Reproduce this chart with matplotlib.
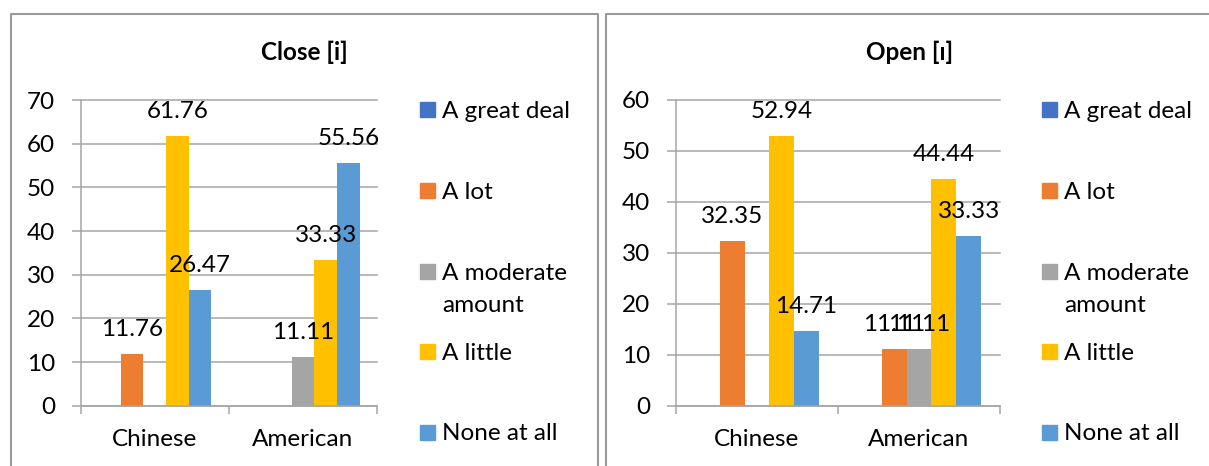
import numpy as np
import matplotlib.pyplot as plt
from matplotlib.lines import Line2D
from matplotlib.patches import Rectangle

# Lato for the text, DejaVu Sans as a fallback for the IPA letter in the title
plt.rcParams['font.family'] = ['Lato', 'DejaVu Sans']

W, H = 1209, 466  # figure size in pixels

# --- data ---
categories = ['Chinese', 'American']
series = ['A great deal', 'A lot', 'A moderate\namount', 'A little', 'None at all']
colors = ['#4472C4', '#ED7D31', '#A5A5A5', '#FFC000', '#5B9BD5']

# None = nobody in that group chose the answer (no bar, no label)
close_great = [None, None]
close_lot = [11.76, None]
close_moderate = [None, 11.11]
close_little = [61.76, 33.33]
close_none = [26.47, 55.56]

open_great = [None, None]
open_lot = [32.35, 11.11]
open_moderate = [None, 11.11]
open_little = [52.94, 44.44]
open_none = [14.71, 33.33]

grid_c = '#a6a6a6'
border_c = '#9a9a9a'
bar_w = 0.153
fs = 17.5


def px(x, y):
    """pixel position (from top-left) -> figure fraction"""
    return x / W, 1 - y / H


def draw_panel(ax, values, ymax):
    x = np.arange(len(categories))
    for i, (vals, color) in enumerate(zip(values, colors)):
        v = np.array([np.nan if a is None else a for a in vals], dtype=float)
        bars = ax.bar(x + (i - 2) * bar_w, v, width=bar_w, color=color, zorder=2)
        for b, val in zip(bars, v):
            if np.isnan(val):
                continue
            ax.annotate(f'{val:.2f}', (b.get_x() + b.get_width() / 2, val),
                        xytext=(0, 19), textcoords='offset points',
                        ha='center', va='center_baseline', fontsize=fs,
                        zorder=5, annotation_clip=False)

    ax.set_xlim(-0.5, 1.5)
    ax.set_ylim(0, ymax)
    ax.set_yticks(range(0, ymax + 1, 10))
    ax.yaxis.grid(True, color=grid_c, lw=1.1)
    for gl in ax.get_ygridlines():
        gl.set_clip_on(False)
    ax.set_axisbelow(True)
    ax.tick_params(axis='y', length=6.5, width=1.1, color=grid_c, pad=12, labelsize=fs)

    ax.set_xticks(x)
    ax.set_xticklabels(categories)
    ax.set_xticks([-0.5, 0.5, 1.5], minor=True)
    ax.tick_params(axis='x', which='major', length=0, pad=17, labelsize=fs)
    ax.tick_params(axis='x', which='minor', length=6, width=1.1, color=grid_c)

    for s in ['top', 'right']:
        ax.spines[s].set_visible(False)
    for s in ['left', 'bottom']:
        ax.spines[s].set_color(grid_c)
        ax.spines[s].set_linewidth(1.1)


def draw_legend(fig, swatch_x, text_x):
    for j, (label, color) in enumerate(zip(series, colors)):
        y = 110 + 80.5 * j
        fig.add_artist(Rectangle(px(swatch_x, y + 7.5), 15 / W, 15 / H,
                                 transform=fig.transFigure, color=color))
        # wrapped entries: one text per line, 33 px apart
        for k, line in enumerate(label.split('\n')):
            fig.text(*px(text_x, y + 33 * k), line, ha='left',
                     va='center_baseline', fontsize=fs)


fig = plt.figure(figsize=(W / 100, H / 100), dpi=100)

bottom = (H - 405.7) / H
height = 305.7 / H
ax1 = fig.add_axes([80.7 / W, bottom, (377 - 80.7) / W, height])
ax2 = fig.add_axes([676 / W, bottom, (1000 - 676) / W, height])

draw_panel(ax1, [close_great, close_lot, close_moderate, close_little, close_none], 70)
draw_panel(ax2, [open_great, open_lot, open_moderate, open_little, open_none], 60)

fig.text(*px(304.5, 50.5), 'Close [i]', ha='center', va='center_baseline',
         fontsize=17.5, fontweight='bold')
fig.text(*px(910, 50.5), 'Open [ɪ]', ha='center', va='center_baseline',
         fontsize=17.5, fontweight='bold')

draw_legend(fig, 420, 442)
draw_legend(fig, 1042, 1064)

# chart-area frames (they run off the bottom and right edge)
for xs, ys in [([11, 11, 598, 598], [480, 14, 14, 480]),
               ([606, 606, 1230], [480, 14, 14])]:
    fx = [a / W for a in xs]
    fy = [1 - b / H for b in ys]
    fig.add_artist(Line2D(fx, fy, transform=fig.transFigure, color=border_c, lw=1.5))

fig.savefig('out.png', dpi=100)
